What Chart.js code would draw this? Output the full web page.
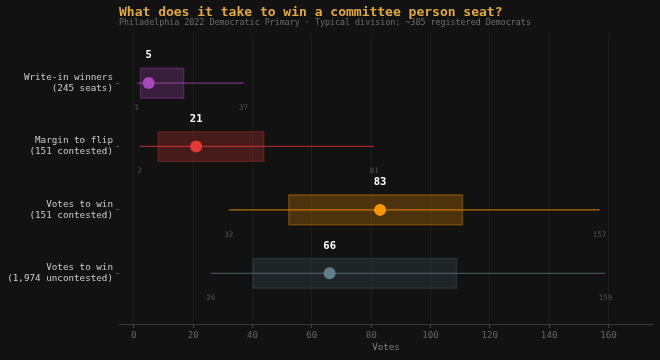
<!DOCTYPE html>
<html>
<head>
<meta charset="utf-8">
<script src="https://cdn.jsdelivr.net/npm/chart.js@4"></script>
<style>
  html, body { margin: 0; padding: 0; background: #121212; }
  #wrap { width: 660px; height: 360px; }
</style>
</head>
<body>
<div id="wrap"><canvas id="c" width="660" height="360"></canvas></div>
<script>
const categories = [
  ["Write-in winners", "(245 seats)"],
  ["Margin to flip", "(151 contested)"],
  ["Votes to win", "(151 contested)"],
  ["Votes to win", "(1,974 uncontested)"]
];
const medians = [5, 21, 83, 66];
const q1 = [2, 8, 52, 40];
const q3 = [17, 44, 111, 109];
const mins = [1, 2, 32, 26];
const maxs = [37, 81, 157, 159];
const xTicks = [0, 20, 40, 60, 80, 100, 120, 140, 160];
const colors = ["#ab47bc", "#e53935", "#ff9800", "#607d8b"];

const FONT = "'DejaVu Sans Mono', monospace";

function rgba(hex, a) {
  const n = parseInt(hex.slice(1), 16);
  return `rgba(${(n >> 16) & 255},${(n >> 8) & 255},${n & 255},${a})`;
}

const boxData = categories.map((c, i) => ({ x: [q1[i], q3[i]], y: i }));
const whiskerSets = categories.map((c, i) => ({
  type: 'scatter',
  showLine: true,
  data: [{ x: mins[i], y: i }, { x: maxs[i], y: i }],
  borderColor: rgba(colors[i], i === 3 ? 0.6 : 0.68),
  borderWidth: 1.3,
  pointRadius: 0,
  pointHoverRadius: 0,
  order: 2
}));

const labelPlugin = {
  id: 'valueLabels',
  afterDatasetsDraw(chart) {
    const ctx = chart.ctx;
    const xs = chart.scales.x, ys = chart.scales.y;
    ctx.save();
    ctx.textAlign = 'center';
    ctx.textBaseline = 'middle';
    categories.forEach((c, i) => {
      const py = ys.getPixelForValue(i);
      ctx.fillStyle = '#ffffff';
      ctx.font = `bold 10.5px ${FONT}`;
      ctx.fillText(String(medians[i]), xs.getPixelForValue(medians[i]), py - 27.5);
      ctx.fillStyle = '#555555';
      ctx.font = `7.5px ${FONT}`;
      ctx.fillText(String(mins[i]), xs.getPixelForValue(mins[i]), py + 25);
      ctx.fillText(String(maxs[i]), xs.getPixelForValue(maxs[i]), py + 25);
    });
    ctx.restore();
  }
};

const bgPlugin = {
  id: 'bg',
  beforeDraw(chart) {
    const ctx = chart.ctx;
    ctx.save();
    ctx.fillStyle = '#121212';
    ctx.fillRect(0, 0, chart.width, chart.height);
    ctx.restore();
  }
};

new Chart(document.getElementById('c'), {
  data: {
    datasets: [
      {
        type: 'bar',
        indexAxis: 'y',
        data: boxData,
        backgroundColor: colors.map((c, i) => rgba(c, i === 3 ? 0.18 : 0.25)),
        borderColor: colors.map((c, i) => rgba(c, i === 3 ? 0.22 : 0.3)),
        borderWidth: 1,
        borderSkipped: false,
        barThickness: 31,
        order: 3
      },
      ...whiskerSets,
      {
        type: 'scatter',
        data: medians.map((m, i) => ({ x: m, y: i })),
        backgroundColor: colors,
        borderWidth: 0,
        pointRadius: 6,
        pointHoverRadius: 6,
        order: 1
      }
    ]
  },
  options: {
    responsive: false,
    animation: false,
    events: [],
    layout: { padding: { left: 0, right: 7, top: 0, bottom: 0 } },
    plugins: {
      legend: { display: false },
      tooltip: { enabled: false },
      title: {
        display: true,
        text: 'What does it take to win a committee person seat?',
        align: 'start',
        fullSize: false,
        color: '#e2aa3c',
        font: { family: FONT, size: 13, weight: 'bold', lineHeight: 1.0 },
        padding: { top: 6, bottom: 0 }
      },
      subtitle: {
        display: true,
        text: 'Philadelphia 2022 Democratic Primary · Typical division: ~385 registered Democrats',
        align: 'start',
        fullSize: false,
        color: '#6e6e6e',
        font: { family: FONT, size: 8.35, lineHeight: 1.0 },
        padding: { top: 0, bottom: 5 }
      }
    },
    scales: {
      x: {
        type: 'linear',
        min: -5,
        max: 175,
        offset: false,
        afterBuildTicks(axis) { axis.ticks = xTicks.map(v => ({ value: v })); },
        afterFit(axis) { axis.height = 36; },
        grid: {
          offset: false,
          color: 'rgba(255,255,255,0.045)',
          tickColor: '#444',
          tickLength: 4,
          drawTicks: true
        },
        border: { display: true, color: '#3a3a3a', width: 1 },
        ticks: {
          color: '#666',
          font: { family: FONT, size: 9.2 },
          padding: 2
        },
        title: {
          display: true,
          text: 'Votes',
          color: '#808080',
          font: { family: FONT, size: 9.2, lineHeight: 1.2 },
          padding: { top: 0, bottom: 6.5 }
        }
      },
      y: {
        type: 'linear',
        min: -0.8,
        max: 3.8,
        reverse: true,
        offset: false,
        afterBuildTicks(axis) { axis.ticks = categories.map((c, i) => ({ value: i })); },
        afterFit(axis) { axis.width = 119; },
        grid: {
          offset: false,
          drawOnChartArea: false,
          drawTicks: true,
          tickLength: 3,
          tickColor: '#555'
        },
        border: { display: false },
        ticks: {
          color: '#cccccc',
          font: { family: FONT, size: 9.25, lineHeight: 1.2 },
          padding: 3,
          callback: (v) => categories[v]
        }
      }
    }
  },
  plugins: [bgPlugin, labelPlugin]
});
</script>
</body>
</html>
